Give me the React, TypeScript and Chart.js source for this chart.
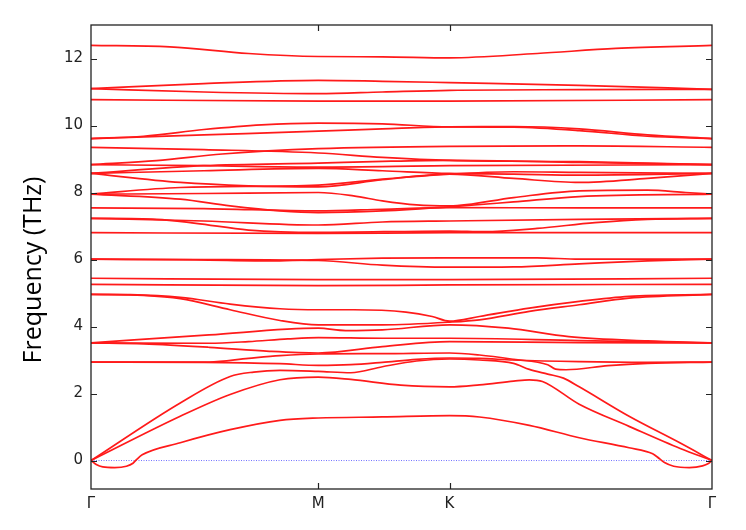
import { useEffect, useRef } from 'react';
import { Chart, registerables } from 'chart.js';
Chart.register(...registerables);

// High-symmetry points (path distance) and labels
const kTicks = [0, 0.866, 1.366, 2.366];
const kLabels = ['Γ', 'M', 'K', 'Γ'];
const yTicks = [0, 2, 4, 6, 8, 10, 12];
const yLabel = 'Frequency (THz)';

// Bands as [k, frequency (THz)]
const bandZA = [[0,0],[0.02,-0.12],[0.045,-0.19],[0.09,-0.21],[0.135,-0.17],[0.16,-0.08],[0.175,0.04],[0.195,0.17],[0.34,0.53],[0.53,0.92],[0.72,1.2],[0.866,1.27],[1.11,1.3],[1.366,1.34],[1.48,1.3],[1.67,1.05],[1.86,0.68],[2.05,0.38],[2.14,0.2],[2.165,0.06],[2.185,-0.06],[2.22,-0.17],[2.28,-0.21],[2.33,-0.16],[2.352,-0.09],[2.366,0]];
const bandTA = [[0,0],[0.34,1.32],[0.53,1.97],[0.72,2.41],[0.866,2.49],[0.99,2.42],[1.18,2.25],[1.366,2.2],[1.48,2.26],[1.61,2.37],[1.67,2.41],[1.72,2.36],[1.86,1.68],[2.05,1.02],[2.245,0.36],[2.366,0]];
const bandLA = [[0,0],[0.34,1.72],[0.53,2.51],[0.62,2.64],[0.72,2.69],[0.866,2.66],[0.99,2.62],[1.11,2.8],[1.24,2.97],[1.366,3.03],[1.48,3.0],[1.61,2.9],[1.67,2.72],[1.74,2.58],[1.8,2.46],[1.86,2.2],[2.05,1.32],[2.245,0.52],[2.366,0]];
const band04 = [[0,2.94],[0.43,2.93],[0.72,2.89],[0.866,2.84],[0.99,2.86],[1.11,2.93],[1.24,3.02],[1.366,3.06],[1.48,3.05],[1.61,3.0],[1.86,2.95],[2.12,2.93],[2.366,2.94]];
const band05 = [[0,2.94],[0.45,2.94],[0.6,3.05],[0.72,3.13],[0.866,3.18],[1.11,3.19],[1.366,3.21],[1.48,3.15],[1.61,3.02],[1.74,2.86],[1.77,2.73],[1.81,2.71],[1.97,2.83],[2.12,2.9],[2.366,2.94]];
const band06 = [[0,3.51],[0.2,3.48],[0.45,3.38],[0.68,3.26],[0.866,3.21],[1.11,3.4],[1.366,3.55],[1.86,3.52],[2.366,3.51]];
const band07 = [[0,3.51],[0.45,3.5],[0.6,3.55],[0.75,3.63],[0.866,3.67],[1.11,3.65],[1.366,3.65],[1.86,3.58],[2.366,3.51]];
const band08 = [[0,3.51],[0.45,3.75],[0.866,3.95],[0.97,3.88],[1.11,3.9],[1.366,4.05],[1.59,3.95],[1.82,3.7],[2.12,3.57],[2.366,3.51]];
const band09 = [[0,4.96],[0.2,4.93],[0.34,4.83],[0.53,4.5],[0.72,4.18],[0.866,4.05],[1.11,4.05],[1.366,4.13],[1.48,4.2],[1.67,4.45],[1.86,4.65],[2.05,4.85],[2.366,4.96]];
const band10 = [[0,4.96],[0.15,4.95],[0.34,4.87],[0.53,4.67],[0.72,4.53],[0.866,4.5],[1.0,4.5],[1.2,4.43],[1.3,4.3],[1.366,4.16],[1.48,4.3],[1.67,4.55],[1.86,4.75],[2.05,4.9],[2.366,4.96]];
const band11 = [[0,5.26],[0.866,5.22],[1.366,5.24],[2.366,5.26]];
const band12 = [[0,5.44],[0.866,5.40],[1.366,5.40],[2.366,5.44]];
const band13 = [[0,6.01],[0.4,5.99],[0.7,5.96],[0.866,6.0],[1.11,6.04],[1.366,6.05],[1.7,6.05],[1.86,6.01],[2.366,6.01]];
const band14 = [[0,6.01],[0.43,6.0],[0.866,5.97],[1.11,5.83],[1.366,5.77],[1.61,5.78],[1.86,5.87],[2.12,5.96],[2.366,6.01]];
const band15 = [[0,6.80],[0.866,6.78],[1.366,6.80],[2.366,6.80]];
const band16 = [[0,7.23],[0.25,7.2],[0.4,7.08],[0.6,6.88],[0.866,6.81],[1.366,6.85],[1.5,6.83],[1.7,6.93],[1.92,7.1],[2.12,7.2],[2.366,7.23]];
const band17 = [[0,7.23],[0.43,7.15],[0.866,7.03],[1.11,7.12],[1.366,7.15],[1.86,7.2],[2.366,7.23]];
const band18 = [[0,7.54],[0.43,7.52],[0.866,7.45],[1.11,7.5],[1.366,7.55],[1.86,7.54],[2.366,7.54]];
const band19 = [[0,7.95],[0.34,7.8],[0.53,7.6],[0.72,7.45],[0.866,7.40],[1.11,7.45],[1.366,7.57],[1.61,7.72],[1.86,7.88],[2.366,7.95]];
const band20 = [[0,7.95],[0.43,7.97],[0.866,8.0],[1.0,7.9],[1.11,7.75],[1.24,7.63],[1.366,7.6],[1.61,7.85],[1.86,8.05],[2.12,8.07],[2.266,8.0],[2.366,7.95]];
const band21 = [[0,7.95],[0.34,8.15],[0.866,8.22],[1.11,8.4],[1.366,8.55],[1.61,8.62],[1.86,8.6],[2.366,8.57]];
const band22 = [[0,8.57],[0.34,8.3],[0.6,8.2],[0.866,8.17],[1.11,8.38],[1.366,8.55],[1.61,8.42],[1.86,8.3],[2.12,8.42],[2.366,8.57]];
const band23 = [[0,8.57],[0.43,8.65],[0.866,8.72],[1.11,8.65],[1.366,8.57],[1.61,8.55],[1.86,8.52],[2.366,8.57]];
const band24 = [[0,8.57],[0.43,8.8],[0.866,8.88],[1.11,8.93],[1.366,8.96],[1.86,8.9],[2.366,8.83]];
const band25 = [[0,8.83],[0.25,8.95],[0.5,9.15],[0.866,9.31],[1.366,9.38],[1.86,9.39],[2.366,9.35]];
const band26 = [[0,9.35],[0.43,9.28],[0.866,9.18],[1.11,9.05],[1.366,8.96],[1.86,8.92],[2.366,8.83]];
const band27 = [[0,8.83],[0.43,8.8],[0.866,8.76],[1.366,8.8],[2.366,8.83]];
const band28 = [[0,9.61],[0.43,9.72],[0.866,9.83],[1.11,9.9],[1.366,9.96],[1.61,9.95],[1.86,9.85],[2.12,9.68],[2.366,9.61]];
const band29 = [[0,9.61],[0.2,9.68],[0.43,9.88],[0.65,10.02],[0.866,10.07],[1.11,10.05],[1.366,9.96],[1.61,9.97],[1.86,9.9],[2.12,9.72],[2.366,9.61]];
const band30 = [[0,10.77],[0.866,10.73],[1.366,10.73],[2.366,10.77]];
const band31 = [[0,11.1],[0.43,11.25],[0.866,11.35],[1.11,11.32],[1.366,11.28],[1.86,11.2],[2.366,11.08]];
const band32 = [[0,11.1],[0.43,11.0],[0.866,10.95],[1.11,11.0],[1.366,11.05],[1.86,11.07],[2.366,11.08]];
const band33 = [[0,12.39],[0.3,12.35],[0.6,12.15],[0.866,12.06],[1.11,12.05],[1.366,12.02],[1.7,12.15],[2.0,12.3],[2.366,12.39]];

const bands = [bandZA, bandTA, bandLA, band04, band05, band06, band07, band08, band09, band10,
  band11, band12, band13, band14, band15, band16, band17, band18, band19, band20, band21,
  band22, band23, band24, band25, band26, band27, band28, band29, band30, band31, band32, band33];

const frame = {
  id: 'frame',
  afterDatasetsDraw(chart: any) {
    const { ctx, chartArea: a, scales } = chart;
    ctx.save();
    ctx.strokeStyle = '#222';
    ctx.lineWidth = 1.3;
    ctx.strokeRect(a.left, a.top, a.right - a.left, a.bottom - a.top);
    ctx.lineWidth = 1.2;
    ctx.beginPath();
    for (const v of yTicks) {
      const y = Math.round(scales.y.getPixelForValue(v)) + 0.5;
      ctx.moveTo(a.left, y); ctx.lineTo(a.left + 6, y);
      ctx.moveTo(a.right, y); ctx.lineTo(a.right - 6, y);
    }
    for (const k of kTicks.slice(1, 3)) {
      const x = Math.round(scales.x.getPixelForValue(k)) + 0.5;
      ctx.moveTo(x, a.top); ctx.lineTo(x, a.top + 6);
      ctx.moveTo(x, a.bottom); ctx.lineTo(x, a.bottom - 6);
    }
    ctx.stroke();
    // axis title
    ctx.translate(34, 270);
    ctx.rotate(-Math.PI / 2);
    ctx.fillStyle = '#000';
    ctx.font = '25px "Open Sans"';
    ctx.textAlign = 'center';
    ctx.textBaseline = 'middle';
    ctx.fillText(yLabel, 0, 0);
    ctx.restore();
  },
};

export default function App() {
  const ref = useRef<HTMLCanvasElement>(null);
  useEffect(() => {
    const datasets: any[] = bands.map((b) => ({
      data: b.map(([x, y]) => ({ x, y })),
      borderColor: '#ff1a1a',
      borderWidth: 1.7,
      pointRadius: 0,
      showLine: true,
      fill: false,
      cubicInterpolationMode: 'monotone',
    }));
    datasets.push({
      data: [{ x: kTicks[0], y: 0 }, { x: kTicks[3], y: 0 }],
      borderColor: 'rgba(90,90,255,0.85)',
      borderWidth: 1,
      borderDash: [1, 1.5],
      pointRadius: 0,
      showLine: true,
      fill: false,
    });
    const chart = new Chart(ref.current!, {
      type: 'scatter',
      data: { datasets },
      plugins: [frame],
      options: {
        animation: false,
        responsive: false,
        events: [],
        layout: { padding: { top: 25, right: 34, left: 0, bottom: 0 } },
        plugins: { legend: { display: false }, tooltip: { enabled: false } },
        scales: {
          x: {
            type: 'linear',
            min: 0,
            max: 2.366,
            afterBuildTicks: (s: any) => { s.ticks = kTicks.map((v) => ({ value: v })); },
            afterFit: (s: any) => { s.height = 41; },
            grid: { display: false, drawTicks: false },
            border: { display: false },
            ticks: {
              autoSkip: false,
              maxRotation: 0,
              padding: 6,
              color: '#222',
              font: { family: 'DejaVu Sans', size: 15 },
              callback: (v: any) => kLabels[kTicks.indexOf(Number(v))] ?? '',
            },
          },
          y: {
            type: 'linear',
            min: -0.85,
            max: 13.0,
            afterBuildTicks: (s: any) => { s.ticks = yTicks.map((v) => ({ value: v })); },
            afterFit: (s: any) => { s.width = 91; },
            grid: { display: false, drawTicks: false },
            border: { display: false },
            ticks: {
              padding: 8,
              color: '#222',
              font: { family: 'DejaVu Sans', size: 15 },
            },
          },
        },
      },
    });
    return () => chart.destroy();
  }, []);
  return (
    <div style={{ position: 'absolute', left: 0, top: 0, width: 746, height: 530 }}>
      <canvas ref={ref} width={746} height={530} style={{ display: 'block' }} />
    </div>
  );
}
